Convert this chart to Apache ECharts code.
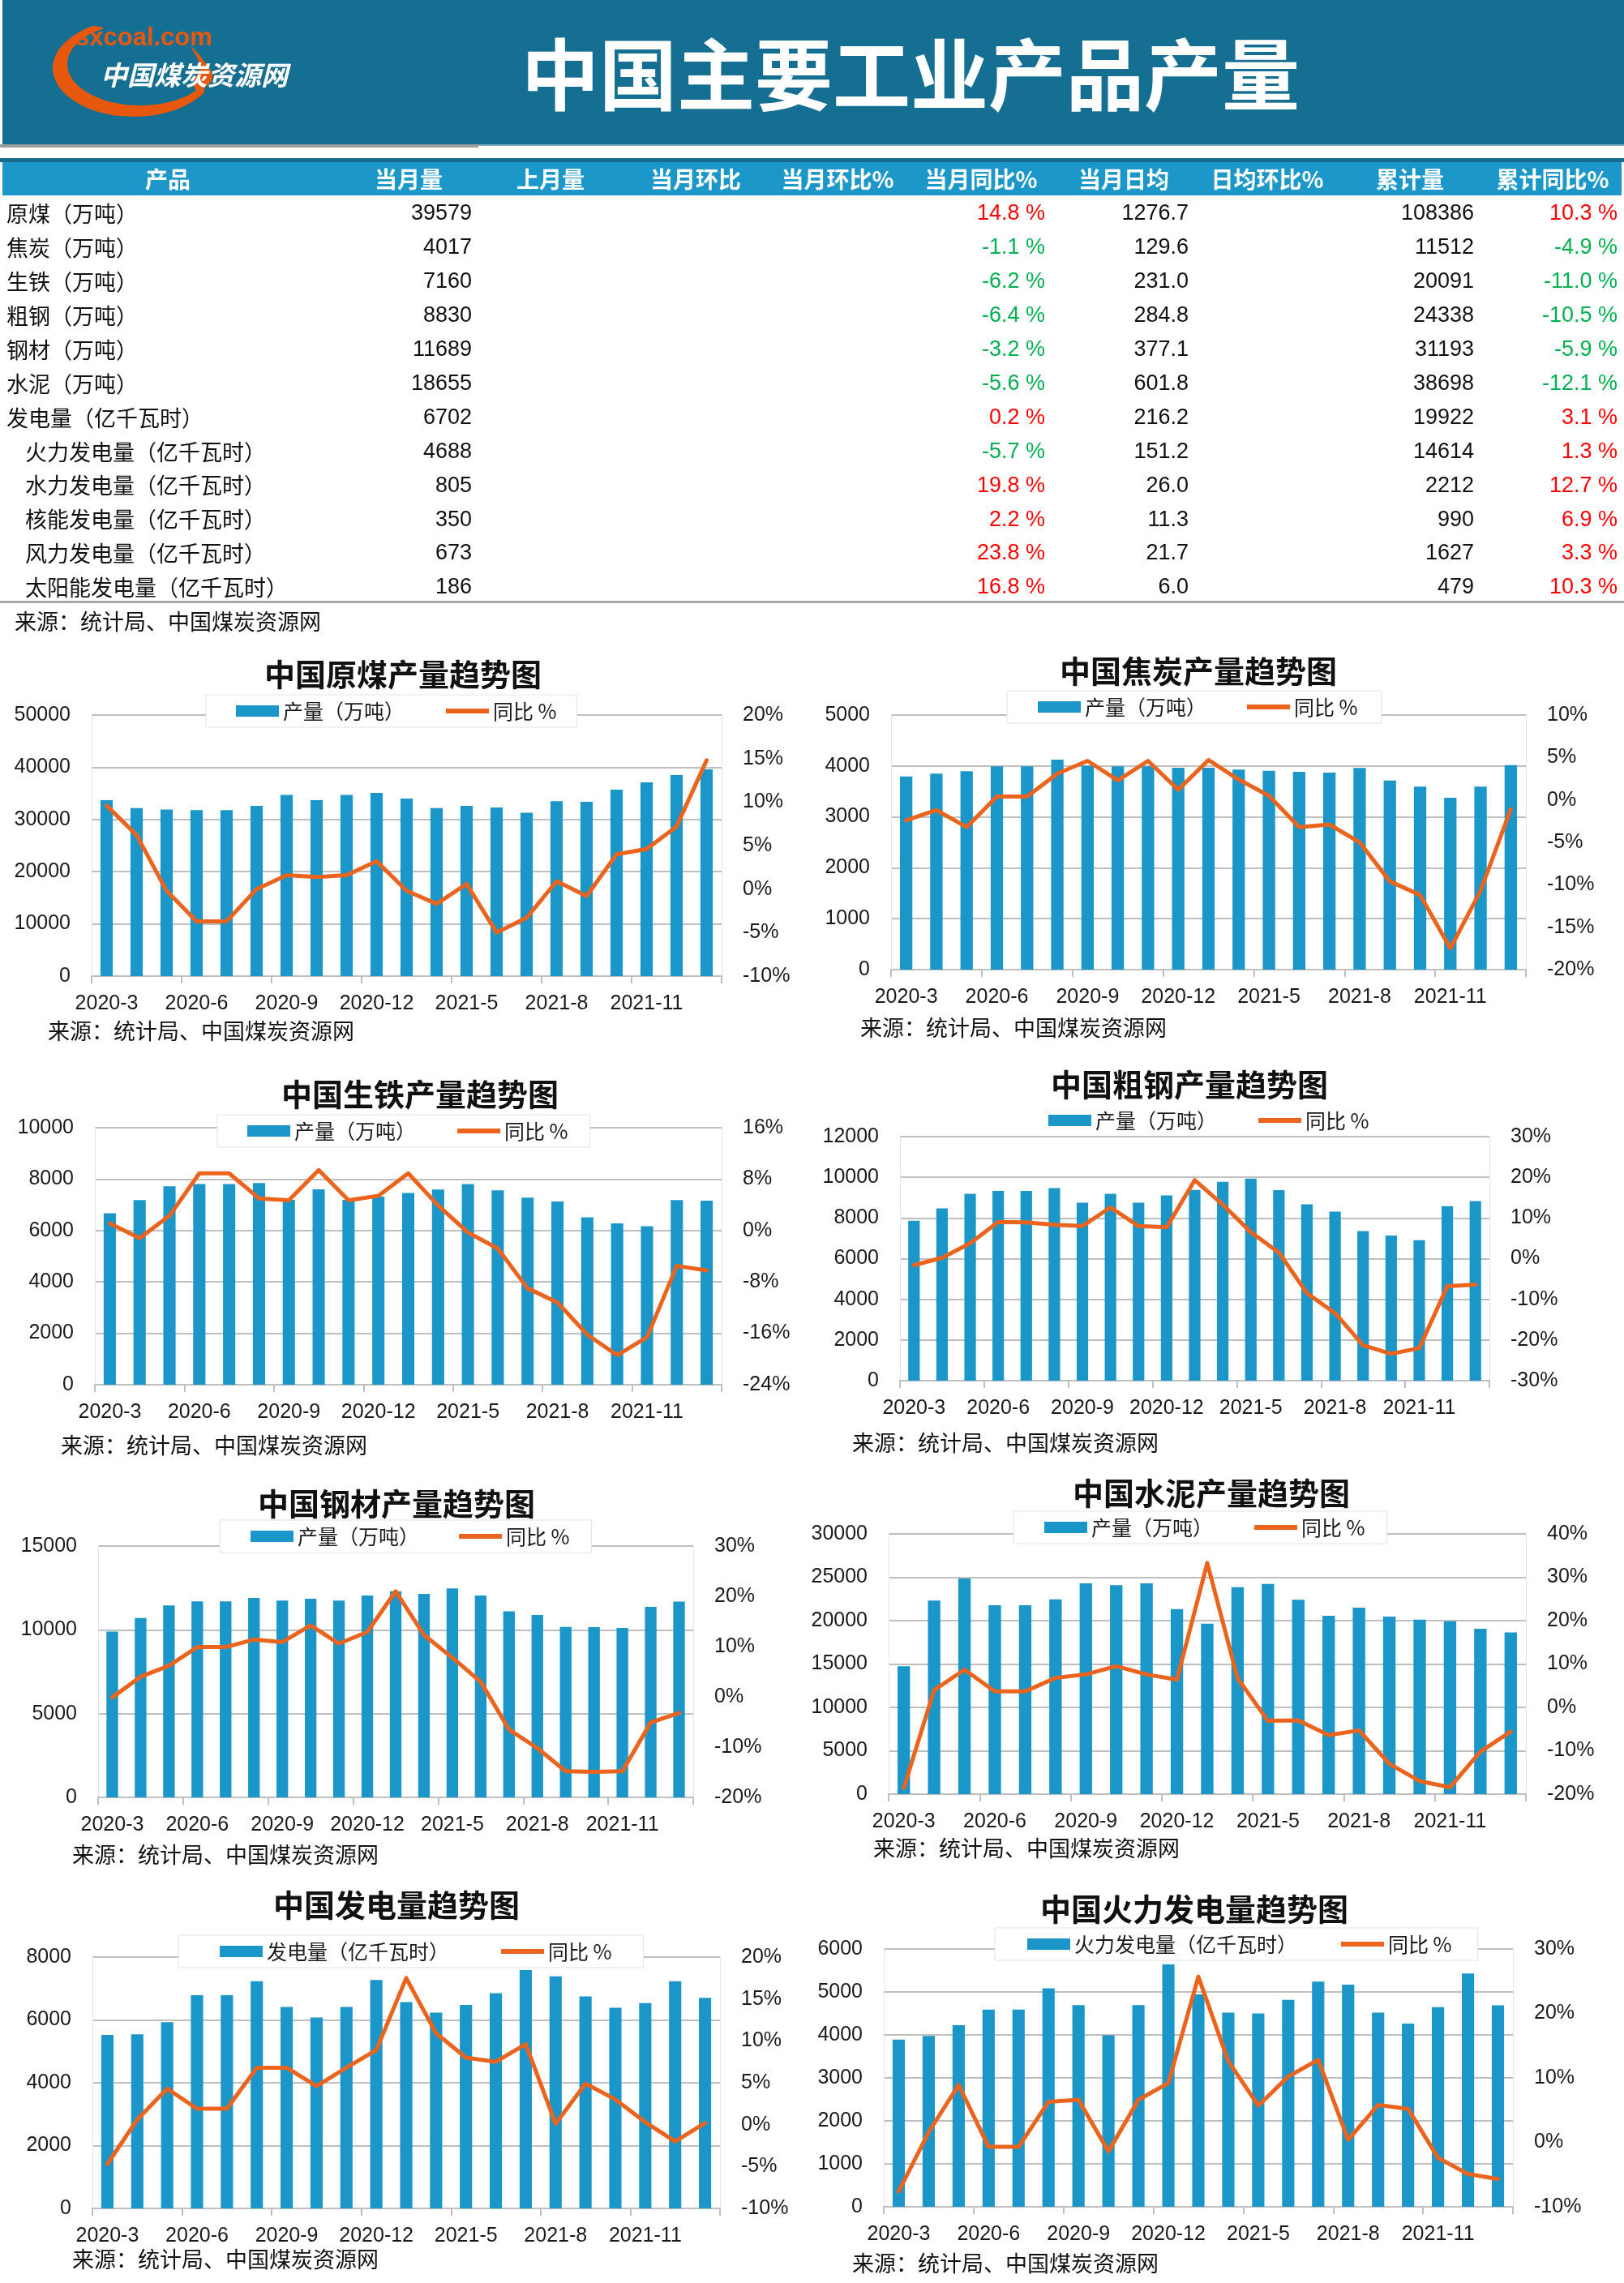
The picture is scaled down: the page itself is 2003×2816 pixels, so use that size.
<!DOCTYPE html>
<html>
<head>
<meta charset="utf-8">
<title>中国主要工业产品产量</title>
<script src="https://cdn.jsdelivr.net/npm/echarts@6/dist/echarts.min.js"></script>
<style>
html, body { margin: 0; padding: 0; background: #fff; }
#main { width: 2003px; height: 2816px; }
</style>
</head>
<body>
<div id="main"></div>
<script>
// ---- table data ----
var tableHeaders = ['产品', '当月量', '上月量', '当月环比', '当月环比%', '当月同比%', '当月日均', '日均环比%', '累计量', '累计同比%'];
var products = ['原煤（万吨）', '焦炭（万吨）', '生铁（万吨）', '粗钢（万吨）', '钢材（万吨）', '水泥（万吨）', '发电量（亿千瓦时）',
  '火力发电量（亿千瓦时）', '水力发电量（亿千瓦时）', '核能发电量（亿千瓦时）', '风力发电量（亿千瓦时）', '太阳能发电量（亿千瓦时）'];
var productIndent = [0, 0, 0, 0, 0, 0, 0, 1, 1, 1, 1, 1];
var monthOutput = [39579, 4017, 7160, 8830, 11689, 18655, 6702, 4688, 805, 350, 673, 186];
var monthYoy = [14.8, -1.1, -6.2, -6.4, -3.2, -5.6, 0.2, -5.7, 19.8, 2.2, 23.8, 16.8];
var dailyAvg = [1276.7, 129.6, 231.0, 284.8, 377.1, 601.8, 216.2, 151.2, 26.0, 11.3, 21.7, 6.0];
var cumOutput = [108386, 11512, 20091, 24338, 31193, 38698, 19922, 14614, 2212, 990, 1627, 479];
var cumYoy = [10.3, -4.9, -11.0, -10.5, -5.9, -12.1, 3.1, 1.3, 12.7, 6.9, 3.3, 10.3];

// ---- chart data ----
var months = ['2020-3', '2020-4', '2020-5', '2020-6', '2020-7', '2020-8', '2020-9', '2020-10', '2020-11', '2020-12',
  '2021-3', '2021-4', '2021-5', '2021-6', '2021-7', '2021-8', '2021-9', '2021-10', '2021-11', '2021-12', '2022-3'];

var coalOutput = [33700, 32200, 31900, 31800, 31800, 32600, 34700, 33700, 34700, 35100, 34000, 32200, 32600, 32300, 31300, 33500, 33400, 35700, 37100, 38500, 39579];
var coalYoy = [9.6, 6.2, -0.2, -3.7, -3.7, 0.0, 1.6, 1.4, 1.6, 3.2, -0.2, -1.7, 0.6, -5.0, -3.3, 0.9, -0.8, 4.0, 4.6, 7.2, 14.8];

var cokeOutput = [3795, 3848, 3896, 3991, 3991, 4124, 4007, 3991, 3991, 3965, 3965, 3928, 3907, 3885, 3869, 3960, 3715, 3593, 3376, 3593, 4017];
var cokeYoy = [-2.4, -1.2, -3.2, 0.4, 0.4, 3.1, 4.6, 2.3, 4.6, 1.2, 4.7, 2.4, 0.5, -3.2, -2.9, -5.0, -9.6, -11.2, -17.5, -10.7, -1.1];

var pigIronOutput = [6670, 7185, 7720, 7805, 7805, 7850, 7195, 7605, 7195, 7320, 7460, 7595, 7805, 7565, 7280, 7130, 6515, 6280, 6165, 7185, 7160];
var pigIronYoy = [1.1, -1.2, 2.3, 8.9, 8.9, 5.0, 4.7, 9.4, 4.7, 5.4, 8.9, 3.9, -0.3, -2.8, -9.0, -11.2, -16.2, -19.4, -16.6, -5.5, -6.2];

var crudeSteelOutput = [7865, 8475, 9190, 9325, 9325, 9470, 8755, 9190, 8755, 9110, 9380, 9775, 9935, 9365, 8675, 8315, 7360, 7135, 6910, 8580, 8830];
var crudeSteelYoy = [-1.6, 0.2, 3.8, 9.0, 8.9, 8.3, 8.0, 12.6, 8.0, 7.7, 19.3, 13.3, 6.5, 1.5, -8.5, -13.4, -21.3, -23.4, -22.0, -6.8, -6.4];

var steelOutput = [9900, 10710, 11450, 11695, 11695, 11905, 11740, 11855, 11740, 12050, 12300, 12145, 12470, 12050, 11100, 10890, 10175, 10160, 10115, 11370, 11689];
var steelYoy = [-0.1, 4.0, 6.2, 9.9, 9.9, 11.4, 10.9, 14.2, 10.6, 12.9, 21.0, 12.3, 7.8, 3.0, -6.5, -10.2, -14.8, -14.9, -14.8, -5.1, -3.2];

var cementOutput = [14735, 22305, 24860, 21775, 21775, 22460, 24300, 24080, 24300, 21340, 19655, 23865, 24235, 22400, 20560, 21495, 20465, 20125, 19940, 19065, 18655];
var cementYoy = [-18.6, 4.0, 8.7, 3.7, 3.7, 6.8, 7.6, 9.5, 7.6, 6.4, 33.3, 6.7, -3.1, -3.0, -6.4, -5.3, -13.0, -17.0, -18.4, -10.2, -5.6];

var powerOutput = [5520, 5545, 5930, 6790, 6790, 7230, 6415, 6080, 6415, 7270, 6570, 6230, 6475, 6850, 7590, 7390, 6750, 6390, 6535, 7230, 6702];
var powerYoy = [-4.7, 0.6, 4.3, 1.9, 1.9, 6.8, 6.8, 4.6, 6.8, 8.9, 17.5, 10.9, 8.0, 7.5, 9.6, 0.1, 4.9, 3.0, 0.3, -2.0, 0.2];

var thermalOutput = [3890, 3975, 4225, 4590, 4590, 5085, 4695, 3990, 4695, 5640, 4945, 4520, 4500, 4815, 5240, 5170, 4520, 4265, 4645, 5430, 4688];
var thermalYoy = [-7.6, 1.6, 8.9, -0.7, -0.7, 6.3, 6.6, -1.4, 6.6, 9.2, 25.7, 12.6, 5.7, 10.2, 12.8, 0.4, 5.8, 5.2, -2.4, -4.9, -5.7];

var SOURCE = '来源：统计局、中国煤炭资源网';

// ---- styles ----
var CJK = '"Noto Sans CJK SC", sans-serif';
var NUM = '"Liberation Sans", "Noto Sans CJK SC", sans-serif';
var BAR = '#1a96c8';
var LINE = '#eb641e';
var GRIDLINE = '#bfbfbf';
var RED = '#ff0000';
var GREEN = '#00b050';
// thick line icon for the legend (empty moves keep the full icon box)
var LINE_ICON = 'path://M0,0 L0,0 M0,4 L53,4 L53,10 L0,10 Z M53,14 L53,14';

var dom = document.getElementById('main');
var myChart = echarts.init(dom);

var graphics = [];
function txt(x, y, s, font, color, align) {
  graphics.push({
    type: 'text', x: x, y: y, z: 10,
    style: { text: s, font: font, fill: color, textAlign: align || 'left', align: align || 'left',
      textVerticalAlign: 'middle', verticalAlign: 'middle' }
  });
}
function box(x, y, w, h, color) {
  graphics.push({ type: 'rect', z: 1, shape: { x: x, y: y, width: w, height: h }, style: { fill: color } });
}

// header band
box(3, 0, 2000, 178, '#156f93');
box(0, 178, 590, 4, '#9e9e9e');
box(590, 178, 1413, 2, '#7fa8bb');
txt(1123, 92, '中国主要工业产品产量', 'bold 96px ' + CJK, '#ffffff', 'center');

// logo: orange crescent
var outer = [], inner = [];
for (var a = 240; a >= 30; a -= 10) {
  var r = a * Math.PI / 180;
  outer.push([165 + 100 * Math.cos(r), 84 + 60 * Math.sin(r)]);
}
for (var b = 30; b <= 245; b += 10) {
  var r2 = b * Math.PI / 180;
  inner.push([173 + 90 * Math.cos(r2), 79 + 51 * Math.sin(r2)]);
}
graphics.push({ type: 'polygon', z: 5, shape: { points: outer.concat(inner), smooth: 0.2 }, style: { fill: '#e8580c' } });
graphics.push({ type: 'polygon', z: 5, shape: { points: [[244, 112], [262, 96], [252, 76], [236, 58], [247, 82], [239, 102]], smooth: 0.4 }, style: { fill: '#e8580c' } });
txt(93, 47, 'sxcoal.com', 'bold 31px "Liberation Sans", sans-serif', '#e8580c', 'left');
txt(124, 92, '中国煤炭资源网', 'italic bold 33px ' + CJK, '#ffffff', 'left');

// table
box(0, 195, 2003, 5, '#1b6d90');
box(3, 200, 1997, 41, '#1c97ca');
var headerX = [207, 504, 679, 858, 1033, 1210, 1386, 1563, 1739, 1915];
tableHeaders.forEach(function (h, i) {
  txt(headerX[i], 221, h, 'bold 28px ' + CJK, '#ffffff', 'center');
});
var rowFont = '27px ' + NUM;
products.forEach(function (p, i) {
  var y = 264 + i * 41.9;
  txt(productIndent[i] ? 31 : 8, y, p, '27px ' + CJK, '#111', 'left');
  txt(582, y, String(monthOutput[i]), rowFont, '#111', 'right');
  txt(1289, y, monthYoy[i].toFixed(1) + ' %', rowFont, monthYoy[i] >= 0 ? RED : GREEN, 'right');
  txt(1466, y, dailyAvg[i].toFixed(1), rowFont, '#111', 'right');
  txt(1818, y, String(cumOutput[i]), rowFont, '#111', 'right');
  txt(1995, y, cumYoy[i].toFixed(1) + ' %', rowFont, cumYoy[i] >= 0 ? RED : GREEN, 'right');
});
box(0, 741, 2003, 3, '#a8a8a8');
txt(18, 767, SOURCE, '27px ' + CJK, '#111', 'left');

// ---- charts ----
var charts = [
  { title: '中国原煤产量趋势图', tx: 497, ty: 832, bar: '产量（万吨）', out: coalOutput, yoy: coalYoy,
    grid: [113, 890, 882, 1204], lmax: 50000, lint: 10000, rmin: -10, rmax: 20, rint: 5,
    lg: { x: 254, y: 857, pl: 37, pr: 25, gap: 51, box: true }, src: [59, 1272] },
  { title: '中国焦炭产量趋势图', tx: 1478, ty: 828, bar: '产量（万吨）', out: cokeOutput, yoy: cokeYoy,
    grid: [1099, 1882, 882, 1196], lmax: 5000, lint: 1000, rmin: -20, rmax: 10, rint: 5,
    lg: { x: 1242, y: 852, pl: 38, pr: 29, gap: 50, box: true }, src: [1061, 1268] },
  { title: '中国生铁产量趋势图', tx: 518, ty: 1350, bar: '产量（万吨）', out: pigIronOutput, yoy: pigIronYoy,
    grid: [117, 890, 1391, 1708], lmax: 10000, lint: 2000, rmin: -24, rmax: 16, rint: 8,
    lg: { x: 268, y: 1375, pl: 37, pr: 27, gap: 51, box: true }, src: [75, 1783] },
  { title: '中国粗钢产量趋势图', tx: 1467, ty: 1338, bar: '产量（万吨）', out: crudeSteelOutput, yoy: crudeSteelYoy,
    grid: [1110, 1837, 1402, 1703], lmax: 12000, lint: 2000, rmin: -30, rmax: 30, rint: 10,
    lg: { x: 1293, y: 1362, pl: 0, pr: 0, gap: 51, box: false }, src: [1051, 1780] },
  { title: '中国钢材产量趋势图', tx: 489, ty: 1855, bar: '产量（万吨）', out: steelOutput, yoy: steelYoy,
    grid: [121, 855, 1907, 2217], lmax: 15000, lint: 5000, rmin: -20, rmax: 30, rint: 10,
    lg: { x: 271, y: 1875, pl: 38, pr: 27, gap: 49, box: true }, src: [89, 2288] },
  { title: '中国水泥产量趋势图', tx: 1494, ty: 1842, bar: '产量（万吨）', out: cementOutput, yoy: cementYoy,
    grid: [1096, 1882, 1892, 2213], lmax: 30000, lint: 5000, rmin: -20, rmax: 40, rint: 10,
    lg: { x: 1250, y: 1864, pl: 38, pr: 27, gap: 51, box: true }, src: [1077, 2280] },
  { title: '中国发电量趋势图', tx: 489, ty: 2350, bar: '发电量（亿千瓦时）', out: powerOutput, yoy: powerYoy,
    grid: [114, 888, 2414, 2724], lmax: 8000, lint: 2000, rmin: -10, rmax: 20, rint: 5,
    lg: { x: 220, y: 2387, pl: 51, pr: 39, gap: 64, box: true }, src: [89, 2787] },
  { title: '中国火力发电量趋势图', tx: 1473, ty: 2355, bar: '火力发电量（亿千瓦时）', out: thermalOutput, yoy: thermalYoy,
    grid: [1090, 1866, 2404, 2722], lmax: 6000, lint: 1000, rmin: -10, rmax: 30, rint: 10,
    lg: { x: 1227, y: 2378, pl: 40, pr: 32, gap: 54, box: true }, src: [1051, 2792] }
];

var grids = [], xAxes = [], yAxes = [], series = [], legends = [];
charts.forEach(function (c, i) {
  grids.push({ left: c.grid[0], top: c.grid[2], width: c.grid[1] - c.grid[0], height: c.grid[3] - c.grid[2] });
  xAxes.push({
    type: 'category', gridIndex: i, data: months,
    axisLine: { lineStyle: { color: GRIDLINE, width: 2 } },
    axisTick: { show: true, length: 9, lineStyle: { color: GRIDLINE, width: 2 } },
    axisLabel: { interval: 2, margin: 22, fontSize: 25, color: '#1a1a1a', fontFamily: NUM }
  });
  yAxes.push({
    type: 'value', gridIndex: i, position: 'left', min: 0, max: c.lmax, interval: c.lint,
    axisLine: { show: true, lineStyle: { color: '#e4e4e4', width: 1 } },
    axisTick: { show: false },
    axisLabel: { margin: 26, fontSize: 25, color: '#1a1a1a', fontFamily: NUM,
      formatter: function (v) { return String(v); } },
    splitLine: { lineStyle: { color: GRIDLINE, width: 2 } }
  });
  yAxes.push({
    type: 'value', gridIndex: i, position: 'right', min: c.rmin, max: c.rmax, interval: c.rint,
    axisLine: { show: true, lineStyle: { color: '#e4e4e4', width: 1 } },
    axisTick: { show: false },
    axisLabel: { margin: 26, fontSize: 25, color: '#1a1a1a', fontFamily: NUM,
      formatter: function (v) { return v + '%'; } },
    splitLine: { show: false }
  });
  series.push({
    type: 'bar', name: c.bar, xAxisIndex: i, yAxisIndex: 2 * i, data: c.out,
    barWidth: '41%', itemStyle: { color: BAR }
  });
  series.push({
    type: 'line', name: '同比 %', xAxisIndex: i, yAxisIndex: 2 * i + 1, data: c.yoy,
    symbol: 'none', z: 3,
    lineStyle: { color: LINE, width: 5, join: 'round', cap: 'round' }, itemStyle: { color: LINE }
  });
  legends.push({
    left: c.lg.x, top: c.lg.y, orient: 'horizontal',
    data: [{ name: c.bar, icon: 'rect' }, { name: '同比 %', icon: LINE_ICON }],
    itemWidth: 53, itemHeight: 14, itemGap: c.lg.gap,
    padding: [5, c.lg.pr, 5, c.lg.pl],
    backgroundColor: c.lg.box ? '#ffffff' : 'transparent',
    borderColor: '#e2e2e2', borderWidth: c.lg.box ? 1 : 0,
    textStyle: { fontSize: 25, lineHeight: 30, color: '#1a1a1a', fontFamily: CJK },
    selectedMode: false
  });
  txt(c.tx, c.ty, c.title, 'bold 38px ' + CJK, '#111', 'center');
  txt(c.src[0], c.src[1], SOURCE, '27px ' + CJK, '#111', 'left');
});

var option = {
  backgroundColor: '#ffffff',
  animation: false,
  grid: grids,
  xAxis: xAxes,
  yAxis: yAxes,
  legend: legends,
  series: series,
  graphic: graphics
};
myChart.setOption(option);
</script>
</body>
</html>
